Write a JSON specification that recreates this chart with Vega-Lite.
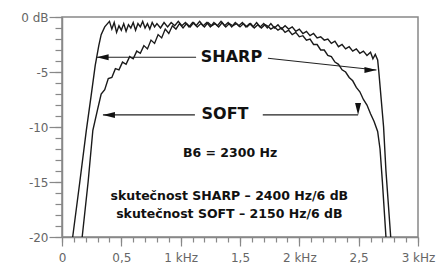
{
  "$schema": "https://vega.github.io/schema/vega-lite/v6.json",
  "width": 356,
  "height": 220,
  "autosize": "none",
  "padding": {"left": 62, "top": 17, "right": 24, "bottom": 32},
  "background": "white",
  "config": {"view": {"stroke": "#888", "strokeWidth": 1.5}},
  "datasets": {
    "curves": [
      {"s":"sharp","f":0.09,"db":-20},{"s":"sharp","f":0.15,"db":-15},{"s":"sharp","f":0.205,"db":-10.3},{"s":"sharp","f":0.245,"db":-7.2},{"s":"sharp","f":0.28,"db":-4.4},{"s":"sharp","f":0.31,"db":-2.6},{"s":"sharp","f":0.33,"db":-1.6},{"s":"sharp","f":0.36,"db":-0.9},{"s":"sharp","f":0.40,"db":-0.4},
      {"s":"sharp","f":0.42,"db":-1.1},{"s":"sharp","f":0.44,"db":-0.5},{"s":"sharp","f":0.46,"db":-1.4},{"s":"sharp","f":0.48,"db":-0.8},{"s":"sharp","f":0.50,"db":-1.2},{"s":"sharp","f":0.52,"db":-0.6},{"s":"sharp","f":0.54,"db":-1.3},{"s":"sharp","f":0.56,"db":-0.7},{"s":"sharp","f":0.58,"db":-1.0},{"s":"sharp","f":0.60,"db":-0.5},{"s":"sharp","f":0.62,"db":-1.2},{"s":"sharp","f":0.64,"db":-0.6},{"s":"sharp","f":0.66,"db":-0.9},{"s":"sharp","f":0.68,"db":-0.4},{"s":"sharp","f":0.70,"db":-1.0},{"s":"sharp","f":0.72,"db":-0.6},{"s":"sharp","f":0.74,"db":-1.1},{"s":"sharp","f":0.76,"db":-0.5},{"s":"sharp","f":0.78,"db":-0.9},{"s":"sharp","f":0.80,"db":-0.6},{"s":"sharp","f":0.83,"db":-1.0},{"s":"sharp","f":0.86,"db":-0.5},{"s":"sharp","f":0.89,"db":-0.9},{"s":"sharp","f":0.92,"db":-0.5},{"s":"sharp","f":0.95,"db":-0.8},{"s":"sharp","f":0.98,"db":-0.4},{"s":"sharp","f":1.01,"db":-0.8},{"s":"sharp","f":1.04,"db":-0.5},{"s":"sharp","f":1.07,"db":-0.9},{"s":"sharp","f":1.10,"db":-0.5},{"s":"sharp","f":1.13,"db":-0.8},{"s":"sharp","f":1.16,"db":-0.4},{"s":"sharp","f":1.19,"db":-0.8},{"s":"sharp","f":1.22,"db":-0.5},{"s":"sharp","f":1.25,"db":-0.9},{"s":"sharp","f":1.28,"db":-0.5},{"s":"sharp","f":1.31,"db":-0.8},{"s":"sharp","f":1.34,"db":-0.4},{"s":"sharp","f":1.37,"db":-0.8},{"s":"sharp","f":1.40,"db":-0.5},{"s":"sharp","f":1.43,"db":-0.9},{"s":"sharp","f":1.46,"db":-0.5},{"s":"sharp","f":1.49,"db":-0.8},{"s":"sharp","f":1.52,"db":-0.5},{"s":"sharp","f":1.55,"db":-0.9},{"s":"sharp","f":1.58,"db":-0.6},{"s":"sharp","f":1.61,"db":-0.9},{"s":"sharp","f":1.64,"db":-0.5},{"s":"sharp","f":1.67,"db":-0.9},{"s":"sharp","f":1.70,"db":-0.6},{"s":"sharp","f":1.73,"db":-1.0},{"s":"sharp","f":1.76,"db":-0.6},{"s":"sharp","f":1.79,"db":-1.0},{"s":"sharp","f":1.82,"db":-0.7},{"s":"sharp","f":1.85,"db":-1.1},{"s":"sharp","f":1.88,"db":-0.8},{"s":"sharp","f":1.91,"db":-1.1},{"s":"sharp","f":1.94,"db":-0.9},{"s":"sharp","f":1.97,"db":-1.3},{"s":"sharp","f":2.00,"db":-1.1},{"s":"sharp","f":2.03,"db":-1.5},{"s":"sharp","f":2.06,"db":-1.3},{"s":"sharp","f":2.09,"db":-1.7},{"s":"sharp","f":2.12,"db":-1.5},{"s":"sharp","f":2.15,"db":-1.9},{"s":"sharp","f":2.18,"db":-1.8},{"s":"sharp","f":2.21,"db":-2.1},{"s":"sharp","f":2.24,"db":-2.0},{"s":"sharp","f":2.27,"db":-2.4},{"s":"sharp","f":2.30,"db":-2.2},{"s":"sharp","f":2.33,"db":-2.7},{"s":"sharp","f":2.36,"db":-2.5},{"s":"sharp","f":2.39,"db":-2.9},{"s":"sharp","f":2.42,"db":-2.7},{"s":"sharp","f":2.45,"db":-3.1},{"s":"sharp","f":2.48,"db":-2.9},{"s":"sharp","f":2.51,"db":-3.3},{"s":"sharp","f":2.54,"db":-3.1},{"s":"sharp","f":2.57,"db":-3.5},{"s":"sharp","f":2.60,"db":-3.2},{"s":"sharp","f":2.62,"db":-3.8},{"s":"sharp","f":2.64,"db":-3.4},{"s":"sharp","f":2.66,"db":-3.9},{"s":"sharp","f":2.67,"db":-5.0},{"s":"sharp","f":2.69,"db":-7.5},{"s":"sharp","f":2.71,"db":-10.0},{"s":"sharp","f":2.73,"db":-14},{"s":"sharp","f":2.77,"db":-20},
      {"s":"soft","f":0.17,"db":-20},{"s":"soft","f":0.22,"db":-15},{"s":"soft","f":0.26,"db":-10.3},{"s":"soft","f":0.30,"db":-8.4},{"s":"soft","f":0.33,"db":-7.0},{"s":"soft","f":0.36,"db":-6.6},{"s":"soft","f":0.39,"db":-5.6},{"s":"soft","f":0.42,"db":-5.5},{"s":"soft","f":0.45,"db":-4.7},{"s":"soft","f":0.48,"db":-4.8},{"s":"soft","f":0.51,"db":-4.1},{"s":"soft","f":0.54,"db":-4.3},{"s":"soft","f":0.57,"db":-3.6},{"s":"soft","f":0.60,"db":-3.8},{"s":"soft","f":0.63,"db":-3.1},{"s":"soft","f":0.66,"db":-3.3},{"s":"soft","f":0.69,"db":-2.6},{"s":"soft","f":0.72,"db":-2.9},{"s":"soft","f":0.75,"db":-2.1},{"s":"soft","f":0.78,"db":-2.4},{"s":"soft","f":0.81,"db":-1.6},{"s":"soft","f":0.84,"db":-1.9},{"s":"soft","f":0.87,"db":-1.1},{"s":"soft","f":0.90,"db":-1.5},{"s":"soft","f":0.93,"db":-0.8},{"s":"soft","f":0.96,"db":-1.1},{"s":"soft","f":0.99,"db":-0.6},{"s":"soft","f":1.02,"db":-1.0},{"s":"soft","f":1.05,"db":-0.6},{"s":"soft","f":1.08,"db":-0.9},{"s":"soft","f":1.11,"db":-0.5},{"s":"soft","f":1.14,"db":-0.9},{"s":"soft","f":1.17,"db":-0.6},{"s":"soft","f":1.20,"db":-0.9},{"s":"soft","f":1.23,"db":-0.5},{"s":"soft","f":1.26,"db":-0.8},{"s":"soft","f":1.29,"db":-0.6},{"s":"soft","f":1.32,"db":-0.9},{"s":"soft","f":1.35,"db":-0.5},{"s":"soft","f":1.38,"db":-0.9},{"s":"soft","f":1.41,"db":-0.6},{"s":"soft","f":1.44,"db":-0.8},{"s":"soft","f":1.47,"db":-0.6},{"s":"soft","f":1.50,"db":-0.9},{"s":"soft","f":1.53,"db":-0.6},{"s":"soft","f":1.56,"db":-0.9},{"s":"soft","f":1.59,"db":-0.6},{"s":"soft","f":1.62,"db":-1.0},{"s":"soft","f":1.65,"db":-0.7},{"s":"soft","f":1.68,"db":-1.0},{"s":"soft","f":1.71,"db":-0.7},{"s":"soft","f":1.73,"db":-0.8},{"s":"soft","f":1.76,"db":-1.1},{"s":"soft","f":1.79,"db":-0.9},{"s":"soft","f":1.82,"db":-1.2},{"s":"soft","f":1.85,"db":-1.0},{"s":"soft","f":1.88,"db":-1.4},{"s":"soft","f":1.91,"db":-1.2},{"s":"soft","f":1.94,"db":-1.6},{"s":"soft","f":1.97,"db":-1.4},{"s":"soft","f":2.00,"db":-1.8},{"s":"soft","f":2.03,"db":-1.7},{"s":"soft","f":2.06,"db":-2.1},{"s":"soft","f":2.09,"db":-2.0},{"s":"soft","f":2.12,"db":-2.5},{"s":"soft","f":2.15,"db":-2.5},{"s":"soft","f":2.18,"db":-3.0},{"s":"soft","f":2.21,"db":-3.0},{"s":"soft","f":2.24,"db":-3.5},{"s":"soft","f":2.27,"db":-3.6},{"s":"soft","f":2.30,"db":-4.1},{"s":"soft","f":2.33,"db":-4.3},{"s":"soft","f":2.36,"db":-4.8},{"s":"soft","f":2.39,"db":-5.0},{"s":"soft","f":2.42,"db":-5.5},{"s":"soft","f":2.45,"db":-5.8},{"s":"soft","f":2.48,"db":-6.4},{"s":"soft","f":2.51,"db":-6.8},{"s":"soft","f":2.54,"db":-7.5},{"s":"soft","f":2.57,"db":-8.0},{"s":"soft","f":2.60,"db":-8.8},{"s":"soft","f":2.63,"db":-9.5},{"s":"soft","f":2.66,"db":-10.4},{"s":"soft","f":2.68,"db":-12},{"s":"soft","f":2.70,"db":-15},{"s":"soft","f":2.73,"db":-20}
    ],
    "arrows": [
      {"x1":1.13,"y1":-3.66,"x2":0.292,"y2":-3.66,"dir":"left"},
      {"x1":1.735,"y1":-3.75,"x2":2.65,"y2":-4.82,"dir":"slant"},
      {"x1":1.12,"y1":-8.9,"x2":0.345,"y2":-8.9,"dir":"left"},
      {"x1":1.692,"y1":-8.9,"x2":2.495,"y2":-8.9,"dir":"right"}
    ],
    "big": [
      {"x":1.428,"y":-3.64,"t":"SHARP"},
      {"x":1.374,"y":-8.85,"t":"SOFT"}
    ],
    "small": [
      {"x":1.416,"y":-12.4,"t":"B6 = 2300 Hz"},
      {"x":1.41,"y":-16.3,"t":"skutečnost SHARP – 2400 Hz/6 dB"},
      {"x":1.41,"y":-17.9,"t":"skutečnost SOFT – 2150 Hz/6 dB"}
    ]
  },
  "layer": [
    {
      "data": {"name": "curves"},
      "mark": {"type": "line", "color": "#1a1a1a", "strokeWidth": 1.4},
      "encoding": {
        "x": {"field": "f", "type": "quantitative", "scale": {"domain": [0, 3], "nice": false, "zero": false},
          "axis": {"orient": "bottom", "title": null, "grid": false, "values": [0, 0.5, 1, 1.5, 2, 2.5, 3], "tickSize": 9, "tickColor": "#888", "tickWidth": 1.2, "domainColor": "#888", "domainWidth": 1.5, "labelFont": "DejaVu Sans", "labelFontSize": 12, "labelColor": "#666", "labelPadding": 6, "labelFlush": false, "labelOverlap": false,
            "labelExpr": "datum.value == 0 ? '0' : (datum.value % 1 == 0 ? datum.value + ' kHz' : replace(format(datum.value, '.1f'), '.', ','))"}},
        "y": {"field": "db", "type": "quantitative", "scale": {"domain": [-20, 0], "nice": false, "zero": false},
          "axis": {"orient": "left", "title": null, "grid": false, "values": [-20, -15, -10, -5, 0], "tickSize": 13, "tickColor": "#888", "tickWidth": 1.2, "domainColor": "#888", "domainWidth": 1.5, "labelFont": "DejaVu Sans", "labelFontSize": 12, "labelColor": "#666", "labelPadding": 1, "labelFlush": false, "labelOverlap": false,
            "labelExpr": "datum.value == 0 ? '0 dB' : '-' + abs(datum.value)"}},
        "detail": {"field": "s", "type": "nominal"}
      }
    },
    {
      "data": {"name": "arrows"},
      "mark": {"type": "rule", "color": "#222", "strokeWidth": 1.2},
      "encoding": {
        "x": {"field": "x1", "type": "quantitative",
          "axis": {"orient": "bottom", "title": null, "grid": false, "labels": false, "domain": false, "tickSize": 5, "tickColor": "#888", "tickWidth": 1.2,
            "values": [0,0.1,0.2,0.3,0.4,0.5,0.6,0.7,0.8,0.9,1,1.1,1.2,1.3,1.4,1.5,1.6,1.7,1.8,1.9,2,2.1,2.2,2.3,2.4,2.5,2.6,2.7,2.8,2.9,3]}},
        "y": {"field": "y1", "type": "quantitative",
          "axis": {"orient": "left", "title": null, "grid": false, "labels": false, "domain": false, "tickSize": 7, "tickColor": "#888", "tickWidth": 1.2,
            "values": [-20,-19,-18,-17,-16,-15,-14,-13,-12,-11,-10,-9,-8,-7,-6,-5,-4,-3,-2,-1,0]}},
        "x2": {"field": "x2"},
        "y2": {"field": "y2"}
      }
    },
    {
      "data": {"name": "arrows"},
      "mark": {"type": "point", "shape": "M0,0L-2,-0.5L-2,0.5Z", "filled": true, "color": "#111", "opacity": 1, "size": 144},
      "encoding": {
        "x": {"field": "x2", "type": "quantitative", "axis": null},
        "y": {"field": "y2", "type": "quantitative", "axis": null},
        "angle": {"field": "dir", "type": "nominal", "scale": {"domain": ["left", "right", "slant"], "range": [180, 0, 6]}, "legend": null}
      }
    },
    {
      "data": {"name": "big"},
      "mark": {"type": "text", "font": "DejaVu Sans", "fontWeight": "bold", "fontSize": 16, "color": "#111", "align": "center", "baseline": "middle"},
      "encoding": {
        "x": {"field": "x", "type": "quantitative", "axis": null},
        "y": {"field": "y", "type": "quantitative", "axis": null},
        "text": {"field": "t"}
      }
    },
    {
      "data": {"name": "small"},
      "mark": {"type": "text", "font": "DejaVu Sans", "fontWeight": "bold", "fontSize": 12.5, "color": "#111", "align": "center", "baseline": "middle"},
      "encoding": {
        "x": {"field": "x", "type": "quantitative", "axis": null},
        "y": {"field": "y", "type": "quantitative", "axis": null},
        "text": {"field": "t"}
      }
    }
  ],
  "resolve": {"axis": {"x": "independent", "y": "independent"}}
}
